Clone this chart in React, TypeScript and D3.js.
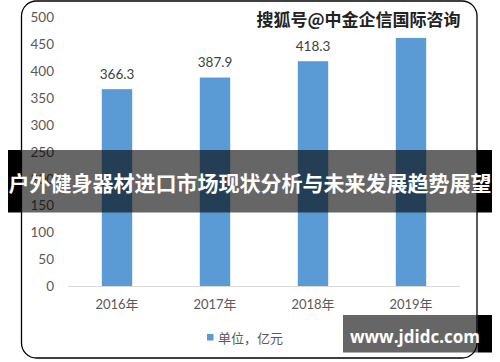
import React from "react";
import * as d3 from "d3";

const categories = ["2016年", "2017年", "2018年", "2019年"];
const values = [366.3, 387.9, 418.3, 461.6];
const valueLabels = ["366.3", "387.9", "418.3", "461.6"];
const yTicks = [0, 50, 100, 150, 200, 250, 300, 350, 400, 450, 500];
const legendLabel = "单位，亿元";
const bannerText = "户外健身器材进口市场现状分析与未来发展趋势展望";
const topMark = "搜狐号@中金企信国际咨询";
const bottomMark = "www.jdidc.com";

const W = 500;
const H = 362;
const FONT = "Lato, 'Noto Sans CJK SC', sans-serif";
const CJK = "'Noto Sans CJK SC', sans-serif";

export default function App() {
  const x = d3
    .scaleBand<string>()
    .domain(categories)
    .range([68, 460])
    .paddingInner(0.69)
    .paddingOuter(0.345);
  const y = d3.scaleLinear().domain([0, 500]).range([286, 17.3]);

  return (
    <div style={{ position: "fixed", left: 0, top: 0, width: W, height: H, background: "#fff" }}>
      <svg width={W} height={H} style={{ display: "block" }}>
        <rect x={0} y={0} width={W} height={H} fill="#fff" />
        {/* chart frame */}
        <rect x={21.5} y={1} width={455.5} height={357} rx={15} ry={15} fill="#fff" stroke="#000" strokeWidth={1.3} />
        {/* y tick labels */}
        {yTicks.map((t) => (
          <text key={t} x={54} y={y(t)} textAnchor="end" dominantBaseline="central" fontFamily={FONT} fontSize={13.5} fill="#595959">
            {t}
          </text>
        ))}
        {/* bars */}
        {categories.map((c, i) => (
          <rect key={c} x={x(c)} y={y(values[i])} width={x.bandwidth()} height={y(0) - y(values[i])} fill="#5b9bd5" />
        ))}
        {/* baseline */}
        <line x1={68} x2={460} y1={286.5} y2={286.5} stroke="#d9d9d9" strokeWidth={1} />
        {/* data labels */}
        {categories.map((c, i) => (
          <text key={c} x={(x(c) as number) + x.bandwidth() / 2} y={y(values[i]) - 15.5} textAnchor="middle" dominantBaseline="central" fontFamily={FONT} fontSize={13.5} fill="#404040">
            {valueLabels[i]}
          </text>
        ))}
        {/* x labels */}
        {categories.map((c) => (
          <text key={c} x={(x(c) as number) + x.bandwidth() / 2} y={304} textAnchor="middle" dominantBaseline="central" fontFamily={FONT} fontSize={13} fill="#595959">
            {c}
          </text>
        ))}
        {/* legend */}
        <rect x={207} y={334} width={6.5} height={6.5} fill="#5b9bd5" />
        <text x={218} y={337.5} dominantBaseline="central" fontFamily={CJK} fontSize={13} fill="#595959">
          {legendLabel}
        </text>
        {/* top watermark */}
        <rect x={253} y={8} width={212} height={21} fill="#fff" />
        <text x={358.5} y={18.5} textAnchor="middle" dominantBaseline="central" fontFamily={CJK} fontSize={17} fontWeight="bold" fill="#222" stroke="#fff" strokeWidth={2} paintOrder="stroke">
          {topMark}
        </text>
        {/* banner */}
        <rect x={8} y={150} width={13.5} height={62.5} fill="#000" />
        <rect x={477} y={150} width={15} height={62.5} fill="#000" />
        <rect x={21.5} y={150} width={455.5} height={62.5} fill="#000" fillOpacity={0.6} />
        <text x={250} y={182} textAnchor="middle" dominantBaseline="central" fontFamily={CJK} fontSize={21} fontWeight="bold" fill="#fff">
          {bannerText}
        </text>
        {/* bottom watermark */}
        <rect x={343} y={315} width={134.5} height={37.5} fill="#000" fillOpacity={0.6} />
        <rect x={477.5} y={315} width={14.5} height={37.5} fill="#000" />
        <text x={415} y={336} textAnchor="middle" dominantBaseline="central" fontFamily="'Open Sans', 'DejaVu Sans', sans-serif" fontSize={17} fontWeight="bold" fill="#fff">
          {bottomMark}
        </text>
      </svg>
    </div>
  );
}
